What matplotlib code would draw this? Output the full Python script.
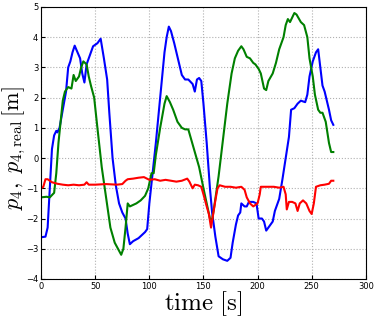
import numpy as np
import matplotlib.pyplot as plt

plt.rcParams['mathtext.fontset'] = 'cm'

# blue: p_4
t_blue = [0, 4, 6, 8, 10, 12, 14, 15, 17, 20, 23, 25, 27, 29, 31, 33, 36, 38, 40, 42, 45, 48, 52, 55,
          58, 61, 63, 66, 69, 72, 75, 78, 80, 82, 85, 90, 96, 98, 100, 103, 106, 110, 114, 116, 118,
          120, 123, 127, 130, 133, 136, 140, 142, 144, 146, 148, 150, 153, 156, 158, 161, 164, 168,
          172, 175, 177, 180, 182, 184, 185, 188, 190, 192, 196, 199, 201, 204, 206, 208, 211, 214,
          216, 220, 223, 226, 229, 231, 234, 237, 240, 244, 246, 248, 251, 254, 256, 258, 260, 262,
          264, 266, 268, 270]
p_blue = [-2.62, -2.6, -2.3, -1.0, 0.3, 0.75, 0.9, 0.85, 1.0, 1.6, 2.2, 3.0, 3.2, 3.5, 3.72, 3.55, 3.3,
          2.8, 2.5, 3.1, 3.4, 3.7, 3.8, 3.95, 3.3, 2.6, 1.5, 0.0, -0.9, -1.5, -1.8, -2.0, -2.5, -2.85,
          -2.75, -2.65, -2.45, -2.35, -1.5, -0.5, 0.5, 2.0, 3.5, 4.0, 4.35, 4.2, 3.8, 3.2, 2.75, 2.6,
          2.6, 2.45, 2.2, 2.6, 2.65, 2.55, 1.8, 0.5, -1.0, -1.8, -2.6, -3.25, -3.35, -3.4, -3.3, -2.8,
          -2.2, -1.9, -1.8, -1.5, -1.6, -1.6, -1.45, -1.45, -1.5, -2.0, -2.0, -2.1, -2.4, -2.25, -2.1,
          -1.75, -1.35, -0.7, 0.0, 0.7, 1.6, 1.65, 1.8, 1.9, 1.85, 2.1, 2.7, 3.2, 3.5, 3.6, 3.0, 2.4,
          2.2, 1.9, 1.6, 1.25, 1.1]

# green: p_4,real
t_green = [0, 5, 8, 12, 14, 16, 18, 20, 22, 25, 28, 30, 32, 35, 37, 39, 42, 44, 46, 49, 52, 56, 60,
           64, 68, 71, 74, 76, 78, 80, 82, 85, 88, 92, 96, 99, 102, 104, 106, 110, 114, 116, 119, 122,
           126, 130, 133, 136, 138, 142, 146, 150, 153, 156, 158, 160, 164, 168, 172, 176, 179, 182,
           185, 187, 190, 193, 196, 198, 201, 203, 206, 208, 210, 214, 217, 220, 224, 226, 228, 230,
           234, 236, 240, 243, 246, 248, 251, 253, 256, 258, 260, 263, 266, 268, 270]
p_green = [-1.3, -1.28, -1.3, -1.15, -0.5, 0.5, 1.2, 1.9, 2.2, 2.35, 2.3, 2.75, 2.55, 2.7, 3.0, 3.2,
           3.1, 2.7, 2.4, 2.0, 1.0, -0.3, -1.3, -2.3, -2.8, -3.0, -3.2, -3.0, -2.3, -1.5, -1.6, -1.55,
           -1.5, -1.4, -1.25, -1.0, -0.5, -0.5, 0.1, 1.0, 1.8, 2.05, 1.85, 1.6, 1.2, 1.0, 0.95, 0.95,
           0.7, 0.2, -0.3, -1.0, -1.5, -2.0, -2.05, -1.6, -0.6, 0.6, 1.8, 2.8, 3.3, 3.55, 3.7, 3.6,
           3.35, 3.3, 3.15, 3.1, 2.95, 2.8, 2.3, 2.25, 2.55, 2.8, 3.15, 3.6, 4.0, 4.4, 4.6, 4.5, 4.8,
           4.75, 4.5, 4.4, 4.0, 3.3, 2.7, 2.1, 1.6, 1.5, 1.5, 1.2, 0.5, 0.2, 0.2]

# red
t_red = [0, 2, 4, 6, 10, 15, 20, 25, 30, 35, 40, 42, 44, 50, 60, 70, 75, 78, 80, 85, 90, 95, 100,
         105, 110, 115, 120, 125, 130, 135, 137, 140, 142, 145, 148, 150, 153, 155, 157, 159, 161,
         163, 165, 170, 175, 180, 185, 188, 190, 193, 196, 200, 202, 203, 210, 215, 220, 224, 226,
         227, 229, 232, 235, 237, 239, 242, 245, 248, 250, 252, 254, 258, 262, 266, 268, 270]
p_red = [-1.0, -0.95, -0.7, -0.7, -0.8, -0.85, -0.88, -0.9, -0.88, -0.9, -0.88, -0.8, -0.88, -0.88,
         -0.86, -0.88, -0.86, -0.75, -0.7, -0.68, -0.65, -0.63, -0.72, -0.7, -0.75, -0.72, -0.75,
         -0.78, -0.75, -0.68, -0.78, -1.0, -0.88, -0.9, -0.95, -1.2, -1.6, -1.85, -2.3, -1.85, -1.4,
         -1.0, -0.9, -0.95, -0.95, -0.98, -0.95, -1.05, -1.3, -1.5, -1.6, -1.5, -1.2, -0.95, -0.95,
         -0.95, -0.98, -0.95, -1.2, -1.7, -1.45, -1.45, -1.5, -1.75, -1.5, -1.4, -1.5, -1.75, -1.85,
         -1.5, -0.95, -0.9, -0.88, -0.85, -0.75, -0.75]

fig = plt.figure(figsize=(3.74, 3.17), dpi=100)
ax = fig.add_axes([0.11, 0.12, 0.868, 0.858])

ax.plot(t_blue, p_blue, color='#0000ff', lw=1.5)
ax.plot(t_green, p_green, color='#008000', lw=1.5)
ax.plot(t_red, p_red, color='#ff0000', lw=1.5)

ax.set_xlim(0, 300)
ax.set_ylim(-4, 5)
ax.set_xticks(np.arange(0, 301, 50))
ax.set_yticks(np.arange(-4, 6, 1))
ax.grid(True, linestyle=':', color='#b0b0b0', lw=0.8)
ax.tick_params(labelsize=6, direction='in', length=3, pad=2)
ax.set_xlabel(r'$\mathrm{time}\ [\mathrm{s}]$', fontsize=18)
ax.xaxis.set_label_coords(0.5, -0.038)
ax.set_ylabel(r'$p_4,\ p_{4,\mathrm{real}}\,[\mathrm{m}]$', fontsize=16)
ax.yaxis.set_label_coords(-0.042, 0.48)

fig.savefig('out.png', dpi=100)
